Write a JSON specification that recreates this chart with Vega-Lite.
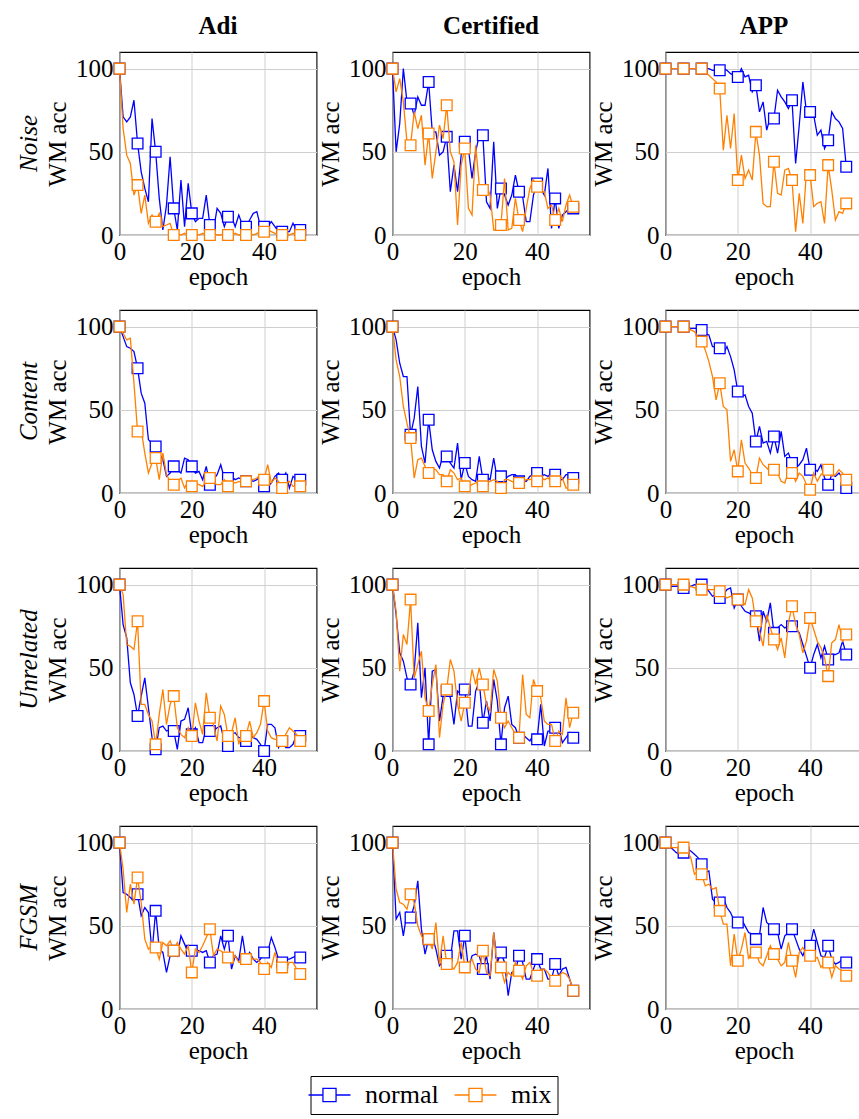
{"$schema":"https://vega.github.io/schema/vega-lite/v6.json","padding":{"left":16.5,"top":14,"right":0,"bottom":2},"background":"white",
"data":{"values":[
{"a":"Noise","m":"Adi","e":0,"normal":100,"mix":100},{"a":"Noise","m":"Adi","e":1,"normal":71,"mix":64},{"a":"Noise","m":"Adi","e":2,"normal":68,"mix":48},{"a":"Noise","m":"Adi","e":3,"normal":71,"mix":43},{"a":"Noise","m":"Adi","e":4,"normal":81,"mix":24},{"a":"Noise","m":"Adi","e":5,"normal":55,"mix":30},{"a":"Noise","m":"Adi","e":6,"normal":38,"mix":13},{"a":"Noise","m":"Adi","e":7,"normal":28,"mix":24},{"a":"Noise","m":"Adi","e":8,"normal":20,"mix":7},{"a":"Noise","m":"Adi","e":9,"normal":70,"mix":12},{"a":"Noise","m":"Adi","e":10,"normal":50,"mix":8},{"a":"Noise","m":"Adi","e":11,"normal":22,"mix":13},{"a":"Noise","m":"Adi","e":12,"normal":3,"mix":5},{"a":"Noise","m":"Adi","e":13,"normal":18,"mix":6},{"a":"Noise","m":"Adi","e":14,"normal":47,"mix":7},{"a":"Noise","m":"Adi","e":15,"normal":16,"mix":0},{"a":"Noise","m":"Adi","e":16,"normal":3,"mix":1},{"a":"Noise","m":"Adi","e":17,"normal":33,"mix":0},{"a":"Noise","m":"Adi","e":18,"normal":5,"mix":1},{"a":"Noise","m":"Adi","e":19,"normal":31,"mix":0},{"a":"Noise","m":"Adi","e":20,"normal":13,"mix":0},{"a":"Noise","m":"Adi","e":21,"normal":8,"mix":1},{"a":"Noise","m":"Adi","e":22,"normal":10,"mix":0},{"a":"Noise","m":"Adi","e":23,"normal":10,"mix":1},{"a":"Noise","m":"Adi","e":24,"normal":24,"mix":0},{"a":"Noise","m":"Adi","e":25,"normal":6,"mix":0},{"a":"Noise","m":"Adi","e":26,"normal":3,"mix":1},{"a":"Noise","m":"Adi","e":27,"normal":16,"mix":0},{"a":"Noise","m":"Adi","e":28,"normal":13,"mix":0},{"a":"Noise","m":"Adi","e":29,"normal":5,"mix":1},{"a":"Noise","m":"Adi","e":30,"normal":11,"mix":0},{"a":"Noise","m":"Adi","e":31,"normal":11,"mix":0},{"a":"Noise","m":"Adi","e":32,"normal":5,"mix":1},{"a":"Noise","m":"Adi","e":33,"normal":12,"mix":0},{"a":"Noise","m":"Adi","e":34,"normal":6,"mix":0},{"a":"Noise","m":"Adi","e":35,"normal":5,"mix":0},{"a":"Noise","m":"Adi","e":36,"normal":9,"mix":1},{"a":"Noise","m":"Adi","e":37,"normal":13,"mix":0},{"a":"Noise","m":"Adi","e":38,"normal":14,"mix":1},{"a":"Noise","m":"Adi","e":39,"normal":5,"mix":2},{"a":"Noise","m":"Adi","e":40,"normal":5,"mix":2},{"a":"Noise","m":"Adi","e":41,"normal":5,"mix":3},{"a":"Noise","m":"Adi","e":42,"normal":8,"mix":2},{"a":"Noise","m":"Adi","e":43,"normal":5,"mix":1},{"a":"Noise","m":"Adi","e":44,"normal":2,"mix":0},{"a":"Noise","m":"Adi","e":45,"normal":2,"mix":0},{"a":"Noise","m":"Adi","e":46,"normal":2,"mix":1},{"a":"Noise","m":"Adi","e":47,"normal":2,"mix":0},{"a":"Noise","m":"Adi","e":48,"normal":7,"mix":1},{"a":"Noise","m":"Adi","e":49,"normal":3,"mix":0},{"a":"Noise","m":"Adi","e":50,"normal":3,"mix":0},
{"a":"Noise","m":"Certified","e":0,"normal":100,"mix":100},{"a":"Noise","m":"Certified","e":1,"normal":50,"mix":86},{"a":"Noise","m":"Certified","e":2,"normal":67,"mix":94},{"a":"Noise","m":"Certified","e":3,"normal":100,"mix":80},{"a":"Noise","m":"Certified","e":4,"normal":80,"mix":56},{"a":"Noise","m":"Certified","e":5,"normal":79,"mix":54},{"a":"Noise","m":"Certified","e":6,"normal":72,"mix":74},{"a":"Noise","m":"Certified","e":7,"normal":83,"mix":64},{"a":"Noise","m":"Certified","e":8,"normal":78,"mix":72},{"a":"Noise","m":"Certified","e":9,"normal":78,"mix":42},{"a":"Noise","m":"Certified","e":10,"normal":92,"mix":61},{"a":"Noise","m":"Certified","e":11,"normal":62,"mix":34},{"a":"Noise","m":"Certified","e":12,"normal":62,"mix":50},{"a":"Noise","m":"Certified","e":13,"normal":48,"mix":66},{"a":"Noise","m":"Certified","e":14,"normal":50,"mix":58},{"a":"Noise","m":"Certified","e":15,"normal":59,"mix":78},{"a":"Noise","m":"Certified","e":16,"normal":26,"mix":50},{"a":"Noise","m":"Certified","e":17,"normal":42,"mix":44},{"a":"Noise","m":"Certified","e":18,"normal":26,"mix":6},{"a":"Noise","m":"Certified","e":19,"normal":48,"mix":42},{"a":"Noise","m":"Certified","e":20,"normal":56,"mix":52},{"a":"Noise","m":"Certified","e":21,"normal":52,"mix":16},{"a":"Noise","m":"Certified","e":22,"normal":34,"mix":12},{"a":"Noise","m":"Certified","e":23,"normal":50,"mix":54},{"a":"Noise","m":"Certified","e":24,"normal":60,"mix":30},{"a":"Noise","m":"Certified","e":25,"normal":60,"mix":27},{"a":"Noise","m":"Certified","e":26,"normal":20,"mix":30},{"a":"Noise","m":"Certified","e":27,"normal":16,"mix":24},{"a":"Noise","m":"Certified","e":28,"normal":56,"mix":3},{"a":"Noise","m":"Certified","e":29,"normal":16,"mix":3},{"a":"Noise","m":"Certified","e":30,"normal":28,"mix":6},{"a":"Noise","m":"Certified","e":31,"normal":24,"mix":34},{"a":"Noise","m":"Certified","e":32,"normal":18,"mix":3},{"a":"Noise","m":"Certified","e":33,"normal":24,"mix":4},{"a":"Noise","m":"Certified","e":34,"normal":36,"mix":22},{"a":"Noise","m":"Certified","e":35,"normal":26,"mix":9},{"a":"Noise","m":"Certified","e":36,"normal":23,"mix":2},{"a":"Noise","m":"Certified","e":37,"normal":8,"mix":16},{"a":"Noise","m":"Certified","e":38,"normal":8,"mix":28},{"a":"Noise","m":"Certified","e":39,"normal":24,"mix":33},{"a":"Noise","m":"Certified","e":40,"normal":31,"mix":29},{"a":"Noise","m":"Certified","e":41,"normal":28,"mix":26},{"a":"Noise","m":"Certified","e":42,"normal":24,"mix":26},{"a":"Noise","m":"Certified","e":43,"normal":40,"mix":16},{"a":"Noise","m":"Certified","e":44,"normal":4,"mix":18},{"a":"Noise","m":"Certified","e":45,"normal":22,"mix":9},{"a":"Noise","m":"Certified","e":46,"normal":4,"mix":16},{"a":"Noise","m":"Certified","e":47,"normal":12,"mix":8},{"a":"Noise","m":"Certified","e":48,"normal":14,"mix":18},{"a":"Noise","m":"Certified","e":49,"normal":16,"mix":24},{"a":"Noise","m":"Certified","e":50,"normal":16,"mix":17},
{"a":"Noise","m":"APP","e":0,"normal":100,"mix":100},{"a":"Noise","m":"APP","e":1,"normal":100,"mix":100},{"a":"Noise","m":"APP","e":2,"normal":100,"mix":100},{"a":"Noise","m":"APP","e":3,"normal":100,"mix":100},{"a":"Noise","m":"APP","e":4,"normal":100,"mix":100},{"a":"Noise","m":"APP","e":5,"normal":100,"mix":100},{"a":"Noise","m":"APP","e":6,"normal":100,"mix":100},{"a":"Noise","m":"APP","e":7,"normal":100,"mix":100},{"a":"Noise","m":"APP","e":8,"normal":100,"mix":100},{"a":"Noise","m":"APP","e":9,"normal":100,"mix":100},{"a":"Noise","m":"APP","e":10,"normal":100,"mix":100},{"a":"Noise","m":"APP","e":11,"normal":100,"mix":98},{"a":"Noise","m":"APP","e":12,"normal":100,"mix":96},{"a":"Noise","m":"APP","e":13,"normal":99,"mix":94},{"a":"Noise","m":"APP","e":14,"normal":99,"mix":92},{"a":"Noise","m":"APP","e":15,"normal":99,"mix":88},{"a":"Noise","m":"APP","e":16,"normal":100,"mix":51},{"a":"Noise","m":"APP","e":17,"normal":99,"mix":72},{"a":"Noise","m":"APP","e":18,"normal":97,"mix":52},{"a":"Noise","m":"APP","e":19,"normal":96,"mix":73},{"a":"Noise","m":"APP","e":20,"normal":95,"mix":33},{"a":"Noise","m":"APP","e":21,"normal":100,"mix":48},{"a":"Noise","m":"APP","e":22,"normal":95,"mix":34},{"a":"Noise","m":"APP","e":23,"normal":96,"mix":39},{"a":"Noise","m":"APP","e":24,"normal":86,"mix":33},{"a":"Noise","m":"APP","e":25,"normal":90,"mix":62},{"a":"Noise","m":"APP","e":26,"normal":74,"mix":48},{"a":"Noise","m":"APP","e":27,"normal":80,"mix":19},{"a":"Noise","m":"APP","e":28,"normal":63,"mix":17},{"a":"Noise","m":"APP","e":29,"normal":71,"mix":17},{"a":"Noise","m":"APP","e":30,"normal":70,"mix":44},{"a":"Noise","m":"APP","e":31,"normal":87,"mix":25},{"a":"Noise","m":"APP","e":32,"normal":83,"mix":24},{"a":"Noise","m":"APP","e":33,"normal":80,"mix":39},{"a":"Noise","m":"APP","e":34,"normal":76,"mix":40},{"a":"Noise","m":"APP","e":35,"normal":81,"mix":33},{"a":"Noise","m":"APP","e":36,"normal":43,"mix":2},{"a":"Noise","m":"APP","e":37,"normal":66,"mix":25},{"a":"Noise","m":"APP","e":38,"normal":92,"mix":7},{"a":"Noise","m":"APP","e":39,"normal":74,"mix":38},{"a":"Noise","m":"APP","e":40,"normal":74,"mix":36},{"a":"Noise","m":"APP","e":41,"normal":72,"mix":17},{"a":"Noise","m":"APP","e":42,"normal":60,"mix":19},{"a":"Noise","m":"APP","e":43,"normal":63,"mix":20},{"a":"Noise","m":"APP","e":44,"normal":52,"mix":7},{"a":"Noise","m":"APP","e":45,"normal":57,"mix":42},{"a":"Noise","m":"APP","e":46,"normal":74,"mix":27},{"a":"Noise","m":"APP","e":47,"normal":70,"mix":9},{"a":"Noise","m":"APP","e":48,"normal":68,"mix":14},{"a":"Noise","m":"APP","e":49,"normal":64,"mix":13},{"a":"Noise","m":"APP","e":50,"normal":41,"mix":19},
{"a":"Content","m":"Adi","e":0,"normal":100,"mix":100},{"a":"Content","m":"Adi","e":1,"normal":94,"mix":96},{"a":"Content","m":"Adi","e":2,"normal":88,"mix":92},{"a":"Content","m":"Adi","e":3,"normal":87,"mix":93},{"a":"Content","m":"Adi","e":4,"normal":85,"mix":66},{"a":"Content","m":"Adi","e":5,"normal":75,"mix":37},{"a":"Content","m":"Adi","e":6,"normal":60,"mix":38},{"a":"Content","m":"Adi","e":7,"normal":54,"mix":24},{"a":"Content","m":"Adi","e":8,"normal":32,"mix":12},{"a":"Content","m":"Adi","e":9,"normal":30,"mix":18},{"a":"Content","m":"Adi","e":10,"normal":28,"mix":21},{"a":"Content","m":"Adi","e":11,"normal":24,"mix":8},{"a":"Content","m":"Adi","e":12,"normal":20,"mix":24},{"a":"Content","m":"Adi","e":13,"normal":10,"mix":11},{"a":"Content","m":"Adi","e":14,"normal":12,"mix":7},{"a":"Content","m":"Adi","e":15,"normal":16,"mix":5},{"a":"Content","m":"Adi","e":16,"normal":14,"mix":7},{"a":"Content","m":"Adi","e":17,"normal":12,"mix":9},{"a":"Content","m":"Adi","e":18,"normal":21,"mix":3},{"a":"Content","m":"Adi","e":19,"normal":20,"mix":7},{"a":"Content","m":"Adi","e":20,"normal":16,"mix":4},{"a":"Content","m":"Adi","e":21,"normal":12,"mix":6},{"a":"Content","m":"Adi","e":22,"normal":13,"mix":5},{"a":"Content","m":"Adi","e":23,"normal":8,"mix":4},{"a":"Content","m":"Adi","e":24,"normal":16,"mix":7},{"a":"Content","m":"Adi","e":25,"normal":5,"mix":9},{"a":"Content","m":"Adi","e":26,"normal":8,"mix":6},{"a":"Content","m":"Adi","e":27,"normal":11,"mix":5},{"a":"Content","m":"Adi","e":28,"normal":17,"mix":5},{"a":"Content","m":"Adi","e":29,"normal":9,"mix":8},{"a":"Content","m":"Adi","e":30,"normal":9,"mix":4},{"a":"Content","m":"Adi","e":31,"normal":10,"mix":7},{"a":"Content","m":"Adi","e":32,"normal":8,"mix":6},{"a":"Content","m":"Adi","e":33,"normal":9,"mix":7},{"a":"Content","m":"Adi","e":34,"normal":8,"mix":6},{"a":"Content","m":"Adi","e":35,"normal":7,"mix":7},{"a":"Content","m":"Adi","e":36,"normal":8,"mix":8},{"a":"Content","m":"Adi","e":37,"normal":7,"mix":8},{"a":"Content","m":"Adi","e":38,"normal":8,"mix":9},{"a":"Content","m":"Adi","e":39,"normal":10,"mix":11},{"a":"Content","m":"Adi","e":40,"normal":4,"mix":8},{"a":"Content","m":"Adi","e":41,"normal":4,"mix":17},{"a":"Content","m":"Adi","e":42,"normal":6,"mix":6},{"a":"Content","m":"Adi","e":43,"normal":10,"mix":9},{"a":"Content","m":"Adi","e":44,"normal":12,"mix":7},{"a":"Content","m":"Adi","e":45,"normal":8,"mix":3},{"a":"Content","m":"Adi","e":46,"normal":12,"mix":6},{"a":"Content","m":"Adi","e":47,"normal":3,"mix":7},{"a":"Content","m":"Adi","e":48,"normal":10,"mix":4},{"a":"Content","m":"Adi","e":49,"normal":8,"mix":4},{"a":"Content","m":"Adi","e":50,"normal":8,"mix":4},
{"a":"Content","m":"Certified","e":0,"normal":100,"mix":100},{"a":"Content","m":"Certified","e":1,"normal":92,"mix":80},{"a":"Content","m":"Certified","e":2,"normal":78,"mix":70},{"a":"Content","m":"Certified","e":3,"normal":70,"mix":52},{"a":"Content","m":"Certified","e":4,"normal":70,"mix":42},{"a":"Content","m":"Certified","e":5,"normal":35,"mix":33},{"a":"Content","m":"Certified","e":6,"normal":45,"mix":9},{"a":"Content","m":"Certified","e":7,"normal":64,"mix":20},{"a":"Content","m":"Certified","e":8,"normal":28,"mix":21},{"a":"Content","m":"Certified","e":9,"normal":18,"mix":16},{"a":"Content","m":"Certified","e":10,"normal":44,"mix":12},{"a":"Content","m":"Certified","e":11,"normal":26,"mix":15},{"a":"Content","m":"Certified","e":12,"normal":19,"mix":14},{"a":"Content","m":"Certified","e":13,"normal":15,"mix":11},{"a":"Content","m":"Certified","e":14,"normal":23,"mix":11},{"a":"Content","m":"Certified","e":15,"normal":22,"mix":7},{"a":"Content","m":"Certified","e":16,"normal":18,"mix":14},{"a":"Content","m":"Certified","e":17,"normal":15,"mix":12},{"a":"Content","m":"Certified","e":18,"normal":30,"mix":8},{"a":"Content","m":"Certified","e":19,"normal":8,"mix":9},{"a":"Content","m":"Certified","e":20,"normal":18,"mix":4},{"a":"Content","m":"Certified","e":21,"normal":10,"mix":4},{"a":"Content","m":"Certified","e":22,"normal":8,"mix":5},{"a":"Content","m":"Certified","e":23,"normal":7,"mix":6},{"a":"Content","m":"Certified","e":24,"normal":22,"mix":7},{"a":"Content","m":"Certified","e":25,"normal":8,"mix":4},{"a":"Content","m":"Certified","e":26,"normal":10,"mix":6},{"a":"Content","m":"Certified","e":27,"normal":8,"mix":7},{"a":"Content","m":"Certified","e":28,"normal":21,"mix":8},{"a":"Content","m":"Certified","e":29,"normal":8,"mix":7},{"a":"Content","m":"Certified","e":30,"normal":10,"mix":3},{"a":"Content","m":"Certified","e":31,"normal":8,"mix":8},{"a":"Content","m":"Certified","e":32,"normal":10,"mix":8},{"a":"Content","m":"Certified","e":33,"normal":11,"mix":7},{"a":"Content","m":"Certified","e":34,"normal":11,"mix":6},{"a":"Content","m":"Certified","e":35,"normal":7,"mix":6},{"a":"Content","m":"Certified","e":36,"normal":8,"mix":7},{"a":"Content","m":"Certified","e":37,"normal":7,"mix":8},{"a":"Content","m":"Certified","e":38,"normal":10,"mix":8},{"a":"Content","m":"Certified","e":39,"normal":11,"mix":9},{"a":"Content","m":"Certified","e":40,"normal":12,"mix":7},{"a":"Content","m":"Certified","e":41,"normal":10,"mix":9},{"a":"Content","m":"Certified","e":42,"normal":11,"mix":8},{"a":"Content","m":"Certified","e":43,"normal":10,"mix":9},{"a":"Content","m":"Certified","e":44,"normal":12,"mix":7},{"a":"Content","m":"Certified","e":45,"normal":11,"mix":7},{"a":"Content","m":"Certified","e":46,"normal":8,"mix":10},{"a":"Content","m":"Certified","e":47,"normal":8,"mix":9},{"a":"Content","m":"Certified","e":48,"normal":11,"mix":3},{"a":"Content","m":"Certified","e":49,"normal":11,"mix":3},{"a":"Content","m":"Certified","e":50,"normal":9,"mix":5},
{"a":"Content","m":"APP","e":0,"normal":100,"mix":100},{"a":"Content","m":"APP","e":1,"normal":100,"mix":100},{"a":"Content","m":"APP","e":2,"normal":100,"mix":100},{"a":"Content","m":"APP","e":3,"normal":100,"mix":100},{"a":"Content","m":"APP","e":4,"normal":100,"mix":100},{"a":"Content","m":"APP","e":5,"normal":100,"mix":100},{"a":"Content","m":"APP","e":6,"normal":99,"mix":100},{"a":"Content","m":"APP","e":7,"normal":99,"mix":98},{"a":"Content","m":"APP","e":8,"normal":99,"mix":97},{"a":"Content","m":"APP","e":9,"normal":99,"mix":94},{"a":"Content","m":"APP","e":10,"normal":98,"mix":91},{"a":"Content","m":"APP","e":11,"normal":96,"mix":86},{"a":"Content","m":"APP","e":12,"normal":95,"mix":79},{"a":"Content","m":"APP","e":13,"normal":88,"mix":70},{"a":"Content","m":"APP","e":14,"normal":88,"mix":56},{"a":"Content","m":"APP","e":15,"normal":87,"mix":66},{"a":"Content","m":"APP","e":16,"normal":84,"mix":52},{"a":"Content","m":"APP","e":17,"normal":88,"mix":50},{"a":"Content","m":"APP","e":18,"normal":82,"mix":19},{"a":"Content","m":"APP","e":19,"normal":74,"mix":26},{"a":"Content","m":"APP","e":20,"normal":61,"mix":13},{"a":"Content","m":"APP","e":21,"normal":58,"mix":32},{"a":"Content","m":"APP","e":22,"normal":59,"mix":18},{"a":"Content","m":"APP","e":23,"normal":52,"mix":15},{"a":"Content","m":"APP","e":24,"normal":48,"mix":11},{"a":"Content","m":"APP","e":25,"normal":31,"mix":9},{"a":"Content","m":"APP","e":26,"normal":40,"mix":21},{"a":"Content","m":"APP","e":27,"normal":30,"mix":17},{"a":"Content","m":"APP","e":28,"normal":31,"mix":15},{"a":"Content","m":"APP","e":29,"normal":24,"mix":13},{"a":"Content","m":"APP","e":30,"normal":34,"mix":14},{"a":"Content","m":"APP","e":31,"normal":24,"mix":12},{"a":"Content","m":"APP","e":32,"normal":37,"mix":7},{"a":"Content","m":"APP","e":33,"normal":22,"mix":6},{"a":"Content","m":"APP","e":34,"normal":24,"mix":13},{"a":"Content","m":"APP","e":35,"normal":18,"mix":12},{"a":"Content","m":"APP","e":36,"normal":15,"mix":7},{"a":"Content","m":"APP","e":37,"normal":17,"mix":12},{"a":"Content","m":"APP","e":38,"normal":20,"mix":10},{"a":"Content","m":"APP","e":39,"normal":27,"mix":5},{"a":"Content","m":"APP","e":40,"normal":14,"mix":2},{"a":"Content","m":"APP","e":41,"normal":15,"mix":12},{"a":"Content","m":"APP","e":42,"normal":13,"mix":7},{"a":"Content","m":"APP","e":43,"normal":17,"mix":11},{"a":"Content","m":"APP","e":44,"normal":9,"mix":13},{"a":"Content","m":"APP","e":45,"normal":5,"mix":14},{"a":"Content","m":"APP","e":46,"normal":11,"mix":10},{"a":"Content","m":"APP","e":47,"normal":10,"mix":11},{"a":"Content","m":"APP","e":48,"normal":12,"mix":14},{"a":"Content","m":"APP","e":49,"normal":9,"mix":12},{"a":"Content","m":"APP","e":50,"normal":3,"mix":8},
{"a":"Unrelated","m":"Adi","e":0,"normal":100,"mix":100},{"a":"Unrelated","m":"Adi","e":1,"normal":76,"mix":94},{"a":"Unrelated","m":"Adi","e":2,"normal":68,"mix":64},{"a":"Unrelated","m":"Adi","e":3,"normal":41,"mix":63},{"a":"Unrelated","m":"Adi","e":4,"normal":34,"mix":61},{"a":"Unrelated","m":"Adi","e":5,"normal":21,"mix":78},{"a":"Unrelated","m":"Adi","e":6,"normal":33,"mix":28},{"a":"Unrelated","m":"Adi","e":7,"normal":44,"mix":28},{"a":"Unrelated","m":"Adi","e":8,"normal":26,"mix":22},{"a":"Unrelated","m":"Adi","e":9,"normal":8,"mix":18},{"a":"Unrelated","m":"Adi","e":10,"normal":1,"mix":4},{"a":"Unrelated","m":"Adi","e":11,"normal":14,"mix":22},{"a":"Unrelated","m":"Adi","e":12,"normal":15,"mix":37},{"a":"Unrelated","m":"Adi","e":13,"normal":12,"mix":16},{"a":"Unrelated","m":"Adi","e":14,"normal":13,"mix":28},{"a":"Unrelated","m":"Adi","e":15,"normal":12,"mix":33},{"a":"Unrelated","m":"Adi","e":16,"normal":1,"mix":14},{"a":"Unrelated","m":"Adi","e":17,"normal":18,"mix":10},{"a":"Unrelated","m":"Adi","e":18,"normal":19,"mix":8},{"a":"Unrelated","m":"Adi","e":19,"normal":26,"mix":14},{"a":"Unrelated","m":"Adi","e":20,"normal":10,"mix":9},{"a":"Unrelated","m":"Adi","e":21,"normal":14,"mix":29},{"a":"Unrelated","m":"Adi","e":22,"normal":5,"mix":18},{"a":"Unrelated","m":"Adi","e":23,"normal":5,"mix":10},{"a":"Unrelated","m":"Adi","e":24,"normal":14,"mix":35},{"a":"Unrelated","m":"Adi","e":25,"normal":12,"mix":20},{"a":"Unrelated","m":"Adi","e":26,"normal":12,"mix":16},{"a":"Unrelated","m":"Adi","e":27,"normal":14,"mix":6},{"a":"Unrelated","m":"Adi","e":28,"normal":15,"mix":27},{"a":"Unrelated","m":"Adi","e":29,"normal":6,"mix":22},{"a":"Unrelated","m":"Adi","e":30,"normal":3,"mix":9},{"a":"Unrelated","m":"Adi","e":31,"normal":10,"mix":11},{"a":"Unrelated","m":"Adi","e":32,"normal":11,"mix":20},{"a":"Unrelated","m":"Adi","e":33,"normal":8,"mix":4},{"a":"Unrelated","m":"Adi","e":34,"normal":8,"mix":12},{"a":"Unrelated","m":"Adi","e":35,"normal":6,"mix":9},{"a":"Unrelated","m":"Adi","e":36,"normal":10,"mix":18},{"a":"Unrelated","m":"Adi","e":37,"normal":8,"mix":8},{"a":"Unrelated","m":"Adi","e":38,"normal":7,"mix":11},{"a":"Unrelated","m":"Adi","e":39,"normal":4,"mix":16},{"a":"Unrelated","m":"Adi","e":40,"normal":0,"mix":30},{"a":"Unrelated","m":"Adi","e":41,"normal":16,"mix":12},{"a":"Unrelated","m":"Adi","e":42,"normal":16,"mix":8},{"a":"Unrelated","m":"Adi","e":43,"normal":14,"mix":7},{"a":"Unrelated","m":"Adi","e":44,"normal":2,"mix":7},{"a":"Unrelated","m":"Adi","e":45,"normal":6,"mix":6},{"a":"Unrelated","m":"Adi","e":46,"normal":2,"mix":10},{"a":"Unrelated","m":"Adi","e":47,"normal":2,"mix":14},{"a":"Unrelated","m":"Adi","e":48,"normal":4,"mix":12},{"a":"Unrelated","m":"Adi","e":49,"normal":10,"mix":10},{"a":"Unrelated","m":"Adi","e":50,"normal":9,"mix":6},
{"a":"Unrelated","m":"Certified","e":0,"normal":100,"mix":100},{"a":"Unrelated","m":"Certified","e":1,"normal":82,"mix":84},{"a":"Unrelated","m":"Certified","e":2,"normal":59,"mix":48},{"a":"Unrelated","m":"Certified","e":3,"normal":54,"mix":70},{"a":"Unrelated","m":"Certified","e":4,"normal":44,"mix":64},{"a":"Unrelated","m":"Certified","e":5,"normal":40,"mix":91},{"a":"Unrelated","m":"Certified","e":6,"normal":48,"mix":44},{"a":"Unrelated","m":"Certified","e":7,"normal":77,"mix":52},{"a":"Unrelated","m":"Certified","e":8,"normal":32,"mix":60},{"a":"Unrelated","m":"Certified","e":9,"normal":50,"mix":32},{"a":"Unrelated","m":"Certified","e":10,"normal":4,"mix":24},{"a":"Unrelated","m":"Certified","e":11,"normal":48,"mix":40},{"a":"Unrelated","m":"Certified","e":12,"normal":49,"mix":52},{"a":"Unrelated","m":"Certified","e":13,"normal":18,"mix":8},{"a":"Unrelated","m":"Certified","e":14,"normal":33,"mix":28},{"a":"Unrelated","m":"Certified","e":15,"normal":36,"mix":37},{"a":"Unrelated","m":"Certified","e":16,"normal":32,"mix":55},{"a":"Unrelated","m":"Certified","e":17,"normal":16,"mix":48},{"a":"Unrelated","m":"Certified","e":18,"normal":36,"mix":28},{"a":"Unrelated","m":"Certified","e":19,"normal":34,"mix":18},{"a":"Unrelated","m":"Certified","e":20,"normal":37,"mix":29},{"a":"Unrelated","m":"Certified","e":21,"normal":15,"mix":34},{"a":"Unrelated","m":"Certified","e":22,"normal":15,"mix":49},{"a":"Unrelated","m":"Certified","e":23,"normal":36,"mix":40},{"a":"Unrelated","m":"Certified","e":24,"normal":42,"mix":50},{"a":"Unrelated","m":"Certified","e":25,"normal":17,"mix":40},{"a":"Unrelated","m":"Certified","e":26,"normal":30,"mix":28},{"a":"Unrelated","m":"Certified","e":27,"normal":18,"mix":24},{"a":"Unrelated","m":"Certified","e":28,"normal":43,"mix":49},{"a":"Unrelated","m":"Certified","e":29,"normal":30,"mix":42},{"a":"Unrelated","m":"Certified","e":30,"normal":4,"mix":20},{"a":"Unrelated","m":"Certified","e":31,"normal":26,"mix":14},{"a":"Unrelated","m":"Certified","e":32,"normal":33,"mix":18},{"a":"Unrelated","m":"Certified","e":33,"normal":16,"mix":14},{"a":"Unrelated","m":"Certified","e":34,"normal":14,"mix":10},{"a":"Unrelated","m":"Certified","e":35,"normal":8,"mix":8},{"a":"Unrelated","m":"Certified","e":36,"normal":10,"mix":46},{"a":"Unrelated","m":"Certified","e":37,"normal":8,"mix":22},{"a":"Unrelated","m":"Certified","e":38,"normal":6,"mix":20},{"a":"Unrelated","m":"Certified","e":39,"normal":10,"mix":43},{"a":"Unrelated","m":"Certified","e":40,"normal":7,"mix":36},{"a":"Unrelated","m":"Certified","e":41,"normal":28,"mix":32},{"a":"Unrelated","m":"Certified","e":42,"normal":3,"mix":18},{"a":"Unrelated","m":"Certified","e":43,"normal":12,"mix":16},{"a":"Unrelated","m":"Certified","e":44,"normal":12,"mix":16},{"a":"Unrelated","m":"Certified","e":45,"normal":14,"mix":6},{"a":"Unrelated","m":"Certified","e":46,"normal":14,"mix":12},{"a":"Unrelated","m":"Certified","e":47,"normal":5,"mix":10},{"a":"Unrelated","m":"Certified","e":48,"normal":8,"mix":32},{"a":"Unrelated","m":"Certified","e":49,"normal":11,"mix":14},{"a":"Unrelated","m":"Certified","e":50,"normal":8,"mix":23},
{"a":"Unrelated","m":"APP","e":0,"normal":100,"mix":100},{"a":"Unrelated","m":"APP","e":1,"normal":99,"mix":100},{"a":"Unrelated","m":"APP","e":2,"normal":99,"mix":100},{"a":"Unrelated","m":"APP","e":3,"normal":99,"mix":100},{"a":"Unrelated","m":"APP","e":4,"normal":99,"mix":100},{"a":"Unrelated","m":"APP","e":5,"normal":98,"mix":100},{"a":"Unrelated","m":"APP","e":6,"normal":98,"mix":99},{"a":"Unrelated","m":"APP","e":7,"normal":99,"mix":99},{"a":"Unrelated","m":"APP","e":8,"normal":100,"mix":98},{"a":"Unrelated","m":"APP","e":9,"normal":100,"mix":98},{"a":"Unrelated","m":"APP","e":10,"normal":100,"mix":97},{"a":"Unrelated","m":"APP","e":11,"normal":98,"mix":98},{"a":"Unrelated","m":"APP","e":12,"normal":96,"mix":97},{"a":"Unrelated","m":"APP","e":13,"normal":93,"mix":97},{"a":"Unrelated","m":"APP","e":14,"normal":94,"mix":97},{"a":"Unrelated","m":"APP","e":15,"normal":92,"mix":96},{"a":"Unrelated","m":"APP","e":16,"normal":94,"mix":94},{"a":"Unrelated","m":"APP","e":17,"normal":97,"mix":92},{"a":"Unrelated","m":"APP","e":18,"normal":98,"mix":93},{"a":"Unrelated","m":"APP","e":19,"normal":86,"mix":92},{"a":"Unrelated","m":"APP","e":20,"normal":91,"mix":91},{"a":"Unrelated","m":"APP","e":21,"normal":87,"mix":90},{"a":"Unrelated","m":"APP","e":22,"normal":84,"mix":88},{"a":"Unrelated","m":"APP","e":23,"normal":83,"mix":97},{"a":"Unrelated","m":"APP","e":24,"normal":82,"mix":92},{"a":"Unrelated","m":"APP","e":25,"normal":81,"mix":78},{"a":"Unrelated","m":"APP","e":26,"normal":66,"mix":72},{"a":"Unrelated","m":"APP","e":27,"normal":84,"mix":63},{"a":"Unrelated","m":"APP","e":28,"normal":78,"mix":82},{"a":"Unrelated","m":"APP","e":29,"normal":89,"mix":74},{"a":"Unrelated","m":"APP","e":30,"normal":71,"mix":67},{"a":"Unrelated","m":"APP","e":31,"normal":74,"mix":61},{"a":"Unrelated","m":"APP","e":32,"normal":76,"mix":68},{"a":"Unrelated","m":"APP","e":33,"normal":74,"mix":56},{"a":"Unrelated","m":"APP","e":34,"normal":75,"mix":77},{"a":"Unrelated","m":"APP","e":35,"normal":75,"mix":87},{"a":"Unrelated","m":"APP","e":36,"normal":74,"mix":76},{"a":"Unrelated","m":"APP","e":37,"normal":71,"mix":70},{"a":"Unrelated","m":"APP","e":38,"normal":64,"mix":59},{"a":"Unrelated","m":"APP","e":39,"normal":57,"mix":66},{"a":"Unrelated","m":"APP","e":40,"normal":50,"mix":80},{"a":"Unrelated","m":"APP","e":41,"normal":58,"mix":73},{"a":"Unrelated","m":"APP","e":42,"normal":64,"mix":66},{"a":"Unrelated","m":"APP","e":43,"normal":56,"mix":62},{"a":"Unrelated","m":"APP","e":44,"normal":63,"mix":56},{"a":"Unrelated","m":"APP","e":45,"normal":55,"mix":45},{"a":"Unrelated","m":"APP","e":46,"normal":58,"mix":65},{"a":"Unrelated","m":"APP","e":47,"normal":58,"mix":67},{"a":"Unrelated","m":"APP","e":48,"normal":59,"mix":76},{"a":"Unrelated","m":"APP","e":49,"normal":66,"mix":66},{"a":"Unrelated","m":"APP","e":50,"normal":58,"mix":70},
{"a":"FGSM","m":"Adi","e":0,"normal":100,"mix":100},{"a":"FGSM","m":"Adi","e":1,"normal":70,"mix":84},{"a":"FGSM","m":"Adi","e":2,"normal":69,"mix":58},{"a":"FGSM","m":"Adi","e":3,"normal":67,"mix":75},{"a":"FGSM","m":"Adi","e":4,"normal":65,"mix":63},{"a":"FGSM","m":"Adi","e":5,"normal":69,"mix":79},{"a":"FGSM","m":"Adi","e":6,"normal":56,"mix":64},{"a":"FGSM","m":"Adi","e":7,"normal":61,"mix":42},{"a":"FGSM","m":"Adi","e":8,"normal":58,"mix":36},{"a":"FGSM","m":"Adi","e":9,"normal":34,"mix":38},{"a":"FGSM","m":"Adi","e":10,"normal":59,"mix":37},{"a":"FGSM","m":"Adi","e":11,"normal":36,"mix":30},{"a":"FGSM","m":"Adi","e":12,"normal":34,"mix":40},{"a":"FGSM","m":"Adi","e":13,"normal":22,"mix":38},{"a":"FGSM","m":"Adi","e":14,"normal":32,"mix":41},{"a":"FGSM","m":"Adi","e":15,"normal":35,"mix":35},{"a":"FGSM","m":"Adi","e":16,"normal":32,"mix":40},{"a":"FGSM","m":"Adi","e":17,"normal":44,"mix":36},{"a":"FGSM","m":"Adi","e":18,"normal":39,"mix":33},{"a":"FGSM","m":"Adi","e":19,"normal":34,"mix":38},{"a":"FGSM","m":"Adi","e":20,"normal":35,"mix":22},{"a":"FGSM","m":"Adi","e":21,"normal":35,"mix":36},{"a":"FGSM","m":"Adi","e":22,"normal":35,"mix":34},{"a":"FGSM","m":"Adi","e":23,"normal":34,"mix":38},{"a":"FGSM","m":"Adi","e":24,"normal":35,"mix":43},{"a":"FGSM","m":"Adi","e":25,"normal":28,"mix":48},{"a":"FGSM","m":"Adi","e":26,"normal":32,"mix":32},{"a":"FGSM","m":"Adi","e":27,"normal":33,"mix":36},{"a":"FGSM","m":"Adi","e":28,"normal":44,"mix":35},{"a":"FGSM","m":"Adi","e":29,"normal":36,"mix":33},{"a":"FGSM","m":"Adi","e":30,"normal":44,"mix":31},{"a":"FGSM","m":"Adi","e":31,"normal":24,"mix":28},{"a":"FGSM","m":"Adi","e":32,"normal":32,"mix":32},{"a":"FGSM","m":"Adi","e":33,"normal":29,"mix":28},{"a":"FGSM","m":"Adi","e":34,"normal":44,"mix":28},{"a":"FGSM","m":"Adi","e":35,"normal":30,"mix":30},{"a":"FGSM","m":"Adi","e":36,"normal":34,"mix":32},{"a":"FGSM","m":"Adi","e":37,"normal":30,"mix":30},{"a":"FGSM","m":"Adi","e":38,"normal":28,"mix":30},{"a":"FGSM","m":"Adi","e":39,"normal":30,"mix":28},{"a":"FGSM","m":"Adi","e":40,"normal":34,"mix":24},{"a":"FGSM","m":"Adi","e":41,"normal":34,"mix":28},{"a":"FGSM","m":"Adi","e":42,"normal":43,"mix":25},{"a":"FGSM","m":"Adi","e":43,"normal":37,"mix":34},{"a":"FGSM","m":"Adi","e":44,"normal":30,"mix":26},{"a":"FGSM","m":"Adi","e":45,"normal":28,"mix":25},{"a":"FGSM","m":"Adi","e":46,"normal":30,"mix":24},{"a":"FGSM","m":"Adi","e":47,"normal":30,"mix":28},{"a":"FGSM","m":"Adi","e":48,"normal":31,"mix":28},{"a":"FGSM","m":"Adi","e":49,"normal":32,"mix":24},{"a":"FGSM","m":"Adi","e":50,"normal":31,"mix":21},
{"a":"FGSM","m":"Certified","e":0,"normal":100,"mix":100},{"a":"FGSM","m":"Certified","e":1,"normal":54,"mix":72},{"a":"FGSM","m":"Certified","e":2,"normal":58,"mix":64},{"a":"FGSM","m":"Certified","e":3,"normal":44,"mix":63},{"a":"FGSM","m":"Certified","e":4,"normal":58,"mix":60},{"a":"FGSM","m":"Certified","e":5,"normal":55,"mix":69},{"a":"FGSM","m":"Certified","e":6,"normal":62,"mix":64},{"a":"FGSM","m":"Certified","e":7,"normal":77,"mix":50},{"a":"FGSM","m":"Certified","e":8,"normal":48,"mix":44},{"a":"FGSM","m":"Certified","e":9,"normal":33,"mix":40},{"a":"FGSM","m":"Certified","e":10,"normal":42,"mix":42},{"a":"FGSM","m":"Certified","e":11,"normal":44,"mix":36},{"a":"FGSM","m":"Certified","e":12,"normal":36,"mix":52},{"a":"FGSM","m":"Certified","e":13,"normal":26,"mix":27},{"a":"FGSM","m":"Certified","e":14,"normal":29,"mix":44},{"a":"FGSM","m":"Certified","e":15,"normal":32,"mix":27},{"a":"FGSM","m":"Certified","e":16,"normal":30,"mix":26},{"a":"FGSM","m":"Certified","e":17,"normal":47,"mix":24},{"a":"FGSM","m":"Certified","e":18,"normal":47,"mix":28},{"a":"FGSM","m":"Certified","e":19,"normal":30,"mix":40},{"a":"FGSM","m":"Certified","e":20,"normal":44,"mix":25},{"a":"FGSM","m":"Certified","e":21,"normal":24,"mix":28},{"a":"FGSM","m":"Certified","e":22,"normal":32,"mix":30},{"a":"FGSM","m":"Certified","e":23,"normal":33,"mix":24},{"a":"FGSM","m":"Certified","e":24,"normal":32,"mix":22},{"a":"FGSM","m":"Certified","e":25,"normal":24,"mix":35},{"a":"FGSM","m":"Certified","e":26,"normal":32,"mix":22},{"a":"FGSM","m":"Certified","e":27,"normal":18,"mix":20},{"a":"FGSM","m":"Certified","e":28,"normal":46,"mix":46},{"a":"FGSM","m":"Certified","e":29,"normal":28,"mix":24},{"a":"FGSM","m":"Certified","e":30,"normal":34,"mix":25},{"a":"FGSM","m":"Certified","e":31,"normal":28,"mix":16},{"a":"FGSM","m":"Certified","e":32,"normal":8,"mix":22},{"a":"FGSM","m":"Certified","e":33,"normal":22,"mix":20},{"a":"FGSM","m":"Certified","e":34,"normal":23,"mix":28},{"a":"FGSM","m":"Certified","e":35,"normal":32,"mix":23},{"a":"FGSM","m":"Certified","e":36,"normal":28,"mix":18},{"a":"FGSM","m":"Certified","e":37,"normal":18,"mix":26},{"a":"FGSM","m":"Certified","e":38,"normal":18,"mix":28},{"a":"FGSM","m":"Certified","e":39,"normal":24,"mix":22},{"a":"FGSM","m":"Certified","e":40,"normal":30,"mix":20},{"a":"FGSM","m":"Certified","e":41,"normal":24,"mix":24},{"a":"FGSM","m":"Certified","e":42,"normal":24,"mix":24},{"a":"FGSM","m":"Certified","e":43,"normal":18,"mix":22},{"a":"FGSM","m":"Certified","e":44,"normal":18,"mix":18},{"a":"FGSM","m":"Certified","e":45,"normal":27,"mix":17},{"a":"FGSM","m":"Certified","e":46,"normal":20,"mix":20},{"a":"FGSM","m":"Certified","e":47,"normal":24,"mix":22},{"a":"FGSM","m":"Certified","e":48,"normal":25,"mix":21},{"a":"FGSM","m":"Certified","e":49,"normal":18,"mix":18},{"a":"FGSM","m":"Certified","e":50,"normal":11,"mix":11},
{"a":"FGSM","m":"APP","e":0,"normal":100,"mix":100},{"a":"FGSM","m":"APP","e":1,"normal":98,"mix":98},{"a":"FGSM","m":"APP","e":2,"normal":96,"mix":97},{"a":"FGSM","m":"APP","e":3,"normal":94,"mix":97},{"a":"FGSM","m":"APP","e":4,"normal":93,"mix":97},{"a":"FGSM","m":"APP","e":5,"normal":94,"mix":97},{"a":"FGSM","m":"APP","e":6,"normal":96,"mix":95},{"a":"FGSM","m":"APP","e":7,"normal":95,"mix":91},{"a":"FGSM","m":"APP","e":8,"normal":93,"mix":81},{"a":"FGSM","m":"APP","e":9,"normal":91,"mix":83},{"a":"FGSM","m":"APP","e":10,"normal":87,"mix":81},{"a":"FGSM","m":"APP","e":11,"normal":82,"mix":74},{"a":"FGSM","m":"APP","e":12,"normal":83,"mix":75},{"a":"FGSM","m":"APP","e":13,"normal":66,"mix":72},{"a":"FGSM","m":"APP","e":14,"normal":64,"mix":73},{"a":"FGSM","m":"APP","e":15,"normal":64,"mix":59},{"a":"FGSM","m":"APP","e":16,"normal":67,"mix":51},{"a":"FGSM","m":"APP","e":17,"normal":61,"mix":51},{"a":"FGSM","m":"APP","e":18,"normal":58,"mix":26},{"a":"FGSM","m":"APP","e":19,"normal":53,"mix":45},{"a":"FGSM","m":"APP","e":20,"normal":52,"mix":29},{"a":"FGSM","m":"APP","e":21,"normal":54,"mix":36},{"a":"FGSM","m":"APP","e":22,"normal":50,"mix":46},{"a":"FGSM","m":"APP","e":23,"normal":46,"mix":30},{"a":"FGSM","m":"APP","e":24,"normal":45,"mix":36},{"a":"FGSM","m":"APP","e":25,"normal":42,"mix":34},{"a":"FGSM","m":"APP","e":26,"normal":44,"mix":28},{"a":"FGSM","m":"APP","e":27,"normal":61,"mix":26},{"a":"FGSM","m":"APP","e":28,"normal":52,"mix":32},{"a":"FGSM","m":"APP","e":29,"normal":50,"mix":38},{"a":"FGSM","m":"APP","e":30,"normal":48,"mix":33},{"a":"FGSM","m":"APP","e":31,"normal":46,"mix":30},{"a":"FGSM","m":"APP","e":32,"normal":36,"mix":26},{"a":"FGSM","m":"APP","e":33,"normal":44,"mix":28},{"a":"FGSM","m":"APP","e":34,"normal":46,"mix":40},{"a":"FGSM","m":"APP","e":35,"normal":48,"mix":29},{"a":"FGSM","m":"APP","e":36,"normal":42,"mix":19},{"a":"FGSM","m":"APP","e":37,"normal":36,"mix":34},{"a":"FGSM","m":"APP","e":38,"normal":32,"mix":37},{"a":"FGSM","m":"APP","e":39,"normal":38,"mix":33},{"a":"FGSM","m":"APP","e":40,"normal":38,"mix":32},{"a":"FGSM","m":"APP","e":41,"normal":48,"mix":30},{"a":"FGSM","m":"APP","e":42,"normal":40,"mix":31},{"a":"FGSM","m":"APP","e":43,"normal":32,"mix":25},{"a":"FGSM","m":"APP","e":44,"normal":31,"mix":28},{"a":"FGSM","m":"APP","e":45,"normal":38,"mix":28},{"a":"FGSM","m":"APP","e":46,"normal":30,"mix":19},{"a":"FGSM","m":"APP","e":47,"normal":27,"mix":26},{"a":"FGSM","m":"APP","e":48,"normal":28,"mix":24},{"a":"FGSM","m":"APP","e":49,"normal":30,"mix":23},{"a":"FGSM","m":"APP","e":50,"normal":28,"mix":20}
]},
"transform":[{"fold":["normal","mix"],"as":["series","acc"]}],
"facet":{
"row":{"field":"a","type":"nominal","sort":["Noise","Content","Unrelated","FGSM"],"title":null,"header":{"labelFontStyle":"italic","labelPadding":-9.5,"labelAngle":-90}},
"column":{"field":"m","type":"nominal","sort":["Adi","Certified","APP"],"title":null,"header":{"labelFontWeight":"bold","labelPadding":12}}
},
"spacing":{"row":19,"column":0},
"resolve":{"axis":{"x":"independent","y":"independent"}},
"spec":{
"width":197,"height":183,
"encoding":{
"x":{"field":"e","type":"quantitative","scale":{"domain":[0,54.5],"nice":false},"axis":{"values":[0,20,40],"title":"epoch"}},
"y":{"field":"acc","type":"quantitative","scale":{"domain":[0,110],"nice":false},"axis":{"values":[0,50,100],"title":"WM acc"}},
"stroke":{"field":"series","type":"nominal","scale":{"domain":["normal","mix"],"range":["#0000ff","#ff8000"]},
"legend":{"orient":"none","legendX":191,"legendY":1024,"direction":"horizontal","title":null,"labelFont":"Liberation Serif","labelFontSize":26,"labelColor":"black","strokeColor":"black","padding":6,"symbolType":"M-3.2,0L-1,0M1,0L3.2,0M-1,-1L1,-1L1,1L-1,1Z","symbolSize":172,"symbolStrokeWidth":1.3,"symbolFillColor":"white","symbolOpacity":1,"labelOffset":22.5,"columnPadding":12}}
},
"layer":[
{"transform":[{"filter":"datum.series=='normal'"}],"mark":{"type":"line","strokeWidth":1.3}},
{"transform":[{"filter":"datum.series=='normal' && datum.e % 5 == 0"}],"mark":{"type":"point","shape":"square","fill":"white","fillOpacity":1,"opacity":1,"size":115,"strokeWidth":1.3}},
{"transform":[{"filter":"datum.series=='mix'"}],"mark":{"type":"line","strokeWidth":1.3}},
{"transform":[{"filter":"datum.series=='mix' && datum.e % 5 == 0"}],"mark":{"type":"point","shape":"square","fill":"white","fillOpacity":1,"opacity":1,"size":115,"strokeWidth":1.3}}
]
},
"config":{
"font":"Liberation Serif",
"view":{"stroke":"black","strokeWidth":1.1},
"axis":{"labelFont":"Liberation Serif","labelFontSize":25,"titleFont":"Liberation Serif","titleFontSize":25,"titleFontWeight":"normal","labelColor":"black","titleColor":"black","grid":true,"gridColor":"#cfcfcf","gridWidth":1,"ticks":false,"domain":false,"labelPadding":6.5,"labelFlush":false,"labelOverlap":false},
"axisY":{"titlePadding":5},
"axisX":{"titlePadding":0,"labelPadding":4},
"header":{"labelFont":"Liberation Serif","labelFontSize":25,"labelColor":"black"}
}
}
